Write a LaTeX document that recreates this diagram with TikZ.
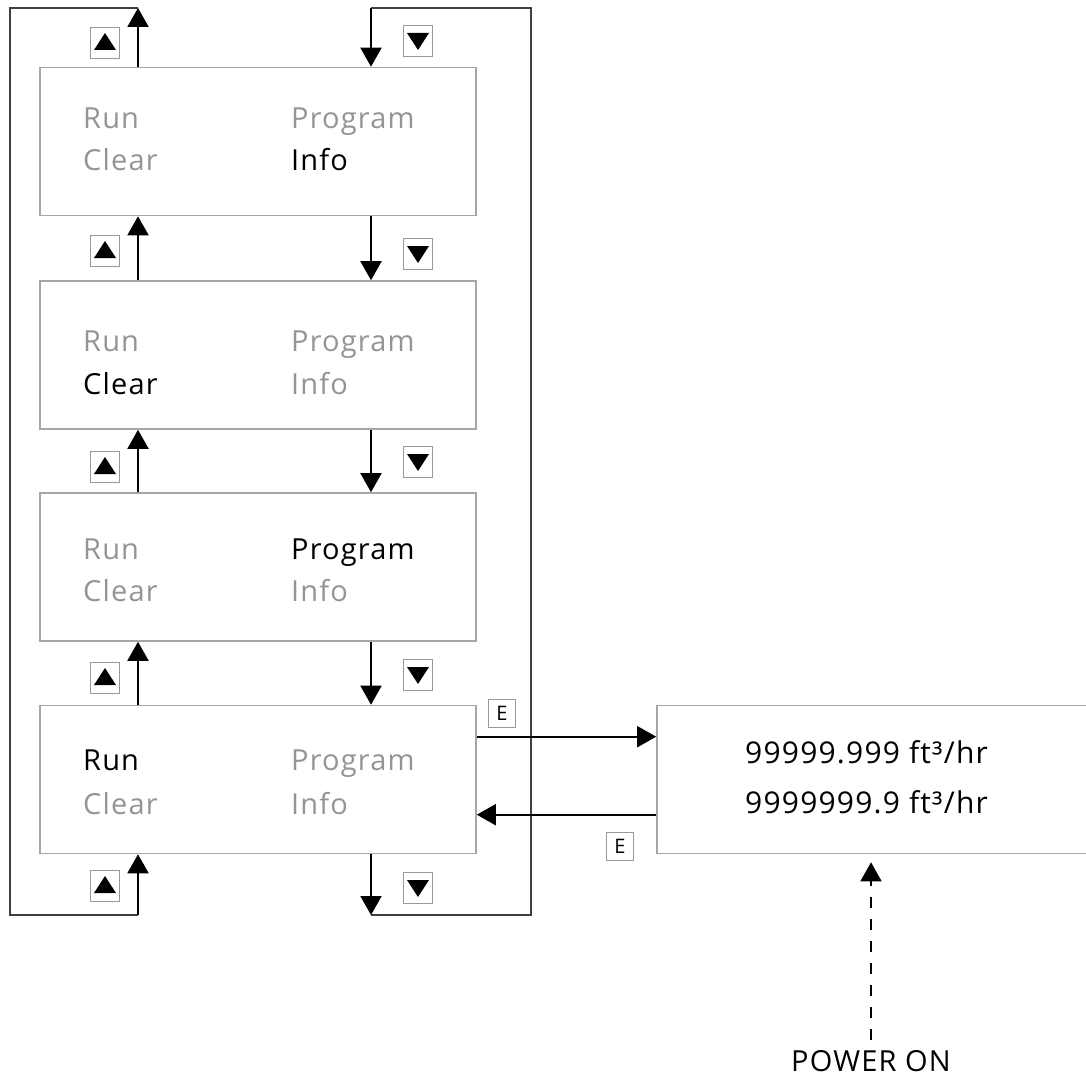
\documentclass[tikz,border=0pt]{standalone}
\usepackage{fontspec}
\setmainfont{Open Sans}[LetterSpace=4]
\usetikzlibrary{calc, arrows.meta}
\tikzset{
  menu box/.style={draw=gray!70, line width=1.6pt, minimum width=436pt, minimum height=148pt, inner sep=0pt},
  rate box/.style={draw=gray!70, line width=1.6pt, minimum width=432pt, minimum height=148pt, inner sep=0pt},
  item on/.style={text=black, font=\fontsize{29}{34}\selectfont, inner sep=0pt, anchor=base west},
  item off/.style={text=black!42, font=\fontsize{29}{34}\selectfont, inner sep=0pt, anchor=base west},
  rate text/.style={font=\fontsize{30}{35}\selectfont, inner sep=0pt, anchor=base west},
  key box/.style={draw=gray!80, line width=1pt, minimum width=29pt, minimum height=31pt, inner sep=0pt},
  e key/.style={draw=gray!80, line width=1pt, minimum width=27pt, minimum height=28pt, inner sep=0pt, font=\fontsize{20}{20}\selectfont},
  flow/.style={-{Triangle[length=19pt, width=21pt]}, line width=2pt, black},
  frame line/.style={line width=2.4pt, black!75},
  power line/.style={-{Triangle[length=19pt, width=21pt]}, line width=1.6pt, black, dash pattern=on 11pt off 11pt},
}

\begin{document}
\begin{tikzpicture}[x=1pt, y=-1pt]
  \useasboundingbox (0,0) rectangle (1086,1078);
  % menu screens, top to bottom
  \foreach \n/\yy/\ra/\rb/\a/\b/\c/\d in {1/141.5/129/171/off/off/off/on, 2/355/351/394/off/on/off/off, 3/567/559/601/off/off/on/off, 4/779.5/770/814/on/off/off/off} {
    \node[menu box] (box\n) at (258,\yy) {};
    \node[item \a] (run\n) at (83,\ra) {Run};
    \node[item \b] (clear\n) at (83,\rb) {Clear};
    \node[item \c] (prog\n) at (291,\ra) {Program};
    \node[item \d] (info\n) at (291,\rb) {Info};
  }
  \node[rate box] (rate) at (873,779.5) {};
  \node[rate text] (rate1) at (745,763) {99999.999 ft³/hr};
  \node[rate text] (rate2) at (745,813) {9999999.9 ft³/hr};
  \node[font=\fontsize{29}{34}\selectfont, inner sep=0pt, anchor=base] (power) at (871,1071) {POWER ON};

  % loop corners
  \coordinate (lt) at (138,8);
  \coordinate (lc) at (10,8);
  \coordinate (lb) at (10,915);
  \coordinate (lbr) at (138,915);
  \coordinate (rt) at (371,8);
  \coordinate (rc) at (531,8);
  \coordinate (rb) at (531,915);
  \coordinate (rbl) at (371,915);

  % up / down keys
  \foreach \k/\yy/\zz in {0/43/41, 1/251/254, 2/467/462, 3/678/675, 4/886/888} {
    \node[key box] (up\k) at (105,\yy) {};
    \node[key box] (dn\k) at (418,\zz) {};
    \fill ($(up\k.center)+(-11,7)$) -- ($(up\k.center)+(11,7)$) -- ($(up\k.center)+(0,-10)$) -- cycle;
    \fill ($(dn\k.center)+(-11,-8)$) -- ($(dn\k.center)+(11,-8)$) -- ($(dn\k.center)+(0,9)$) -- cycle;
  }
  \node[e key] (e1) at (502,713) {E};
  \node[e key] (e2) at (620,846) {E};

  % outer loops
  \draw[frame line] (lt) -- (lc) -- (lb) -- (lbr);
  \draw[frame line] (rbl) -- (rb) -- (rc) -- (rt);
  \draw[flow] (box1.north -| lt) -- (lt);
  \draw[flow] (lbr) -- (box4.south -| lbr);
  \draw[flow] (rt) -- (box1.north -| rt);
  \draw[flow] (box4.south -| rbl) -- (rbl);

  % between the screens
  \foreach \i/\j in {1/2, 2/3, 3/4} {
    \draw[flow] (box\j.north -| lt) -- (box\i.south -| lt);
    \draw[flow] (box\i.south -| rt) -- (box\j.north -| rt);
  }

  % enter key
  \draw[flow] ([yshift=-32pt]box4.north east) -- ([yshift=-32pt]rate.north west);
  \draw[flow] ([yshift=-110pt]rate.north west) -- ([yshift=-110pt]box4.north east);
  \draw[power line, shorten <=10pt] (power.north) -- ([yshift=-8pt]rate.south -| power.north);
\end{tikzpicture}
\end{document}
